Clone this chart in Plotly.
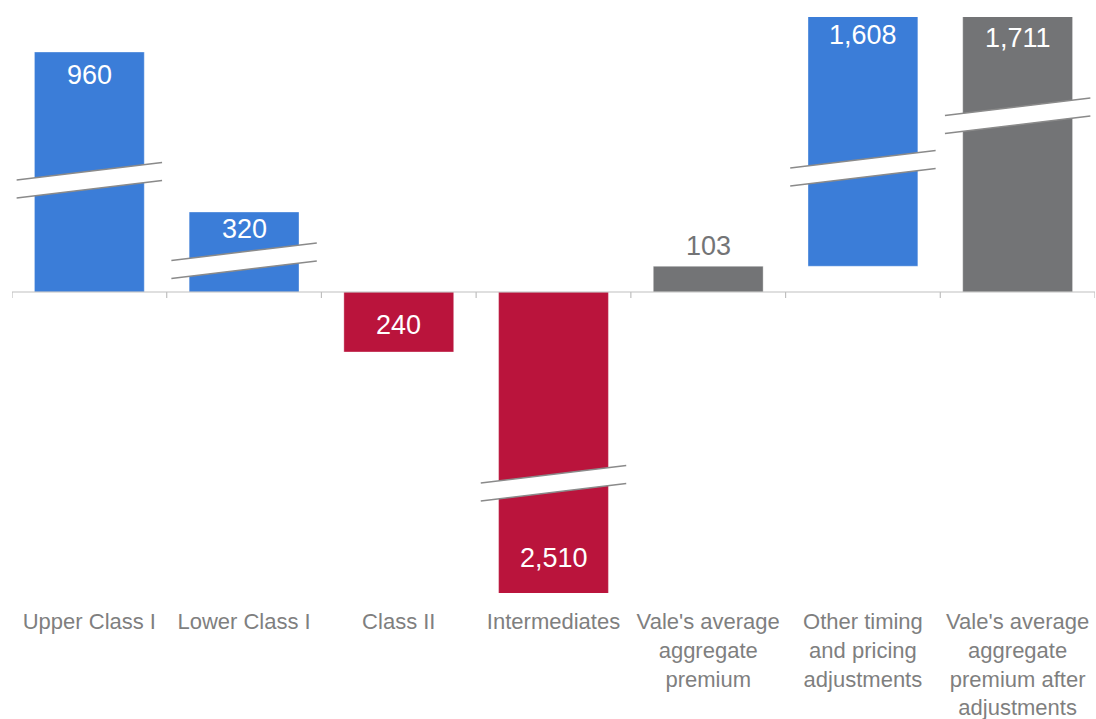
import plotly.graph_objects as go

# ---- data ----
categories = ["Upper Class I", "Lower Class I", "Class II", "Intermediates",
              "Vale's average<br>aggregate<br>premium",
              "Other timing<br>and pricing<br>adjustments",
              "Vale's average<br>aggregate<br>premium after<br>adjustments"]
values = [960, 320, -240, -2510, 103, 1608, 1711]
bases = [0, 0, 0, 0, 0, 103, 0]
value_labels = ["960", "320", "240", "2,510", "103", "1,608", "1,711"]

# ---- style ----
BLUE = "#3B7DD8"
RED = "#BA143C"
GRAY = "#737476"
colors = [BLUE, BLUE, RED, RED, GRAY, BLUE, GRAY]
YMIN, YMAX = -1204, 1100   # broken axis: tall bars are cut at the plot edges

fig = go.Figure()
fig.add_trace(go.Bar(
    x=list(range(len(categories))), y=values, base=bases,
    marker=dict(color=colors, line=dict(color="rgba(255,255,255,0.35)", width=1)),
    width=0.71, hoverinfo="skip",
))

# value labels
label_shift = [-23, -17, -3, 35, 20, -18, -21]
annotations = []
for i, (v, b, t) in enumerate(zip(values, bases, value_labels)):
    top = b + v
    outside = (i == 4)
    if i == 2:
        y = (b + top) / 2
    else:
        y = max(min(top, YMAX), YMIN)
    annotations.append(dict(
        x=i, y=y, xref="x", yref="y", text=t, showarrow=False,
        yshift=label_shift[i],
        font=dict(family="Liberation Sans, Arial", size=27,
                  color=GRAY if outside else "white"),
        yanchor="middle", xanchor="center",
    ))

shapes = []
# zero axis line and ticks
shapes.append(dict(type="line", xref="x", yref="y", x0=-0.5, x1=6.5, y0=0, y1=0,
                   line=dict(color="#BFBFBF", width=1.2), layer="above"))
for k in range(8):
    shapes.append(dict(type="line", xref="x", yref="y", x0=k - 0.5, x1=k - 0.5,
                       y0=0, y1=-24, line=dict(color="#BFBFBF", width=1.2)))

# axis-break marks (bar index, left-mid y in axis units)
breaks = [(0, 412), (1, 90), (3, -800), (5, 460), (6, 670)]
half, rise, hw = 36, 70, 0.47
for i, ym in breaks:
    x0, x1 = i - hw, i + hw
    path = (f"M {x0},{ym + half} L {x1},{ym + half + rise} "
            f"L {x1},{ym - half + rise} L {x0},{ym - half} Z")
    shapes.append(dict(type="path", xref="x", yref="y", path=path,
                       fillcolor="white", line=dict(width=0), layer="above"))
    for s in (half, -half):
        shapes.append(dict(type="line", xref="x", yref="y",
                           x0=x0, y0=ym + s, x1=x1, y1=ym + s + rise,
                           line=dict(color="#8A8A8A", width=1.5), layer="above"))

fig.update_layout(
    width=1096, height=719,
    margin=dict(l=12, r=1, t=17, b=126),
    paper_bgcolor="white", plot_bgcolor="white",
    showlegend=False, bargap=0.29,
    shapes=shapes, annotations=annotations,
    xaxis=dict(range=[-0.5, 6.5], tickmode="array",
               tickvals=list(range(len(categories))), ticktext=categories,
               ticks="outside", ticklen=9, tickcolor="rgba(0,0,0,0)",
               tickfont=dict(family="Liberation Sans, Arial", size=22, color="#7F7F7F"),
               showgrid=False, zeroline=False, showline=False, fixedrange=True,
               automargin=False),
    yaxis=dict(range=[YMIN, YMAX], visible=False, showgrid=False,
               zeroline=False, fixedrange=True, automargin=False),
)

fig.write_html("out.html")
